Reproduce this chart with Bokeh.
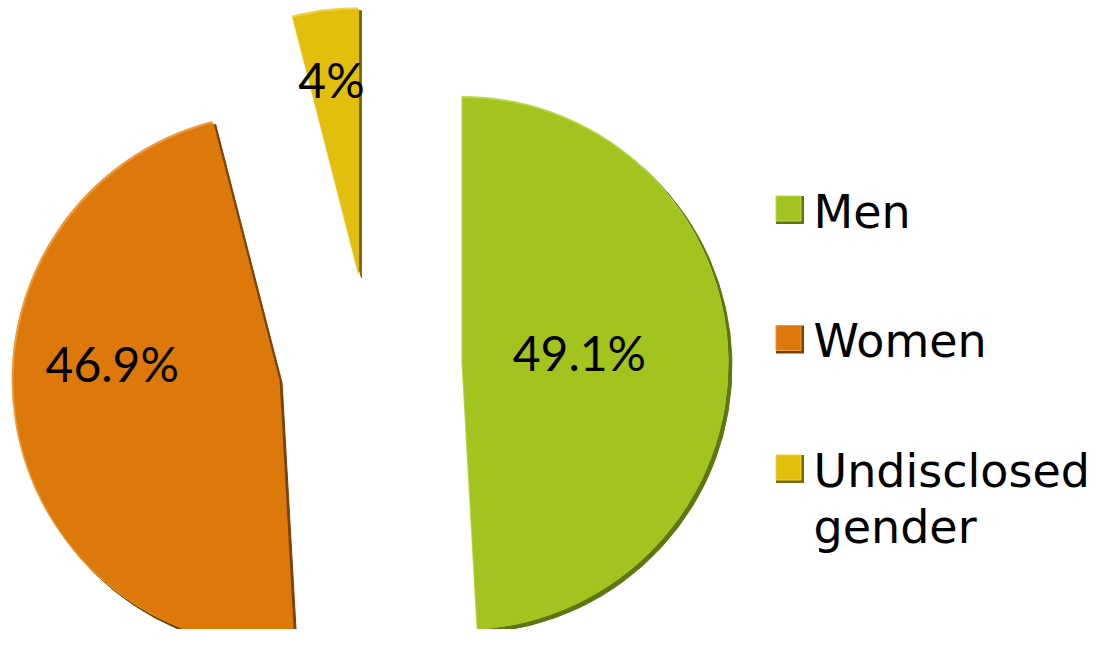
import numpy as np
from bokeh.plotting import figure
from bokeh.models import Range1d, ColumnDataSource
from bokeh.core.properties import value
from bokeh.embed import file_html
from bokeh.resources import INLINE

# ---- data ----
categories = ["Men", "Women", "Undisclosed gender"]
shares = [49.1, 46.9, 4.0]
pct_labels = ["49.1%", "46.9%", "4%"]
legend_lines = [["Men"], ["Women"], ["Undisclosed", "gender"]]

# ---- style ----
fills = ["#A3C41E", "#DD780B", "#E2BF0D"]
edges = ["#5E7510", "#7A4205", "#7C6607"]
highlights = ["#B9D84A", "#EE9A3A", "#F0D24A"]
label_frac = [0.44, 0.63, 0.74]        # label distance from slice tip (fraction of radius)
label_turn = [4.0, -14.5, 0.8]          # label angle offset from slice bisector (deg)

W, H = 1091, 629
PAGE_H = 645
cx, cy = 370, PAGE_H - 366
R = 267
EXPLODE = 92
SH = 2.5

p = figure(width=W, height=H, x_range=Range1d(0, W), y_range=Range1d(PAGE_H - H, PAGE_H),
           output_backend="svg", toolbar_location=None, x_axis_type=None, y_axis_type=None,
           min_border=0)
p.outline_line_color = None
p.grid.visible = False
p.background_fill_color = "white"
p.border_fill_color = "white"

frac = np.array(shares) / np.sum(shares)
cum = np.cumsum(frac)
starts = 90 - 360 * (cum - frac)      # clockwise from 12 o'clock
ends = 90 - 360 * cum
mids = (starts + ends) / 2
mr = np.radians(mids)
tip_x = cx + EXPLODE * np.cos(mr)
tip_y = cy + EXPLODE * np.sin(mr)

# bevel shadow (lower-right) and highlight (upper-left)
shadow = ColumnDataSource(dict(x=tip_x + SH, y=tip_y - SH, start=np.radians(ends), end=np.radians(starts),
                               c=edges))
p.wedge(x="x", y="y", radius=R, start_angle="start", end_angle="end", direction="anticlock",
        fill_color="c", line_color="c", line_width=1, source=shadow)
hl = ColumnDataSource(dict(x=tip_x - 1, y=tip_y + 1, start=np.radians(ends), end=np.radians(starts),
                           c=highlights))
p.wedge(x="x", y="y", radius=R, start_angle="start", end_angle="end", direction="anticlock",
        fill_color="c", line_color=None, source=hl)
src = ColumnDataSource(dict(x=tip_x, y=tip_y, start=np.radians(ends), end=np.radians(starts),
                            fill=fills, cat=categories))
p.wedge(x="x", y="y", radius=R - 1, start_angle="start", end_angle="end", direction="anticlock",
        fill_color="fill", line_color=None, source=src)

la = np.radians(mids + np.array(label_turn))
lx = tip_x + np.array(label_frac) * R * np.cos(la)
ly = tip_y + np.array(label_frac) * R * np.sin(la)
p.text(x=lx, y=ly, text=pct_labels, text_align="center", text_baseline="middle",
       text_font=value("Lato"), text_font_size="48px", text_color="black")

# ---- legend ----
sq_x = 788
sq_y0 = PAGE_H - 208
row_gap = 129.5
line_gap = 56
sq_ys = [sq_y0 - i * row_gap for i in range(len(categories))]
n = len(categories)
p.rect(x=[sq_x + 1.5] * n, y=[v - 1.5 for v in sq_ys], width=28, height=28, fill_color=edges,
       line_color=None)
p.rect(x=[sq_x] * n, y=sq_ys, width=25, height=25, fill_color=fills,
       line_color=highlights, line_width=1)

tx, ty, tt = [], [], []
for i, lines in enumerate(legend_lines):
    for j, ln in enumerate(lines):
        tx.append(813)
        ty.append(sq_ys[i] - 3 - j * line_gap)
        tt.append(ln)
p.text(x=tx, y=ty, text=tt, text_align="left", text_baseline="middle",
       text_font=value("DejaVu Sans"), text_font_size="46px", text_color="black")

open("out.html", "w").write(file_html(p, INLINE))
